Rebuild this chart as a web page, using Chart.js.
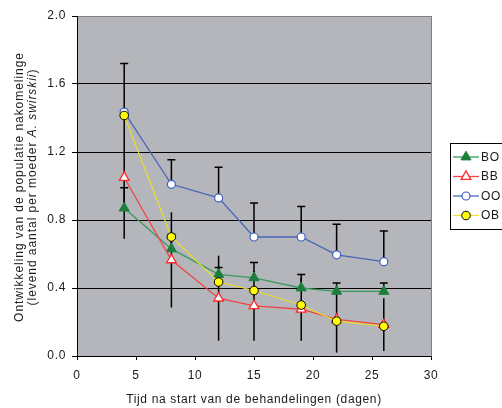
<!DOCTYPE html>
<html><head><meta charset="utf-8">
<script src="https://cdn.jsdelivr.net/npm/chart.js@4/dist/chart.umd.min.js"></script>
<style>html,body{margin:0;padding:0;background:#fff;}#wrap{width:502px;height:408px;position:relative;}</style>
</head><body><div id="wrap"><canvas id="c" width="502" height="408"></canvas></div>
<script>
// ---- data ----
const days = [4, 8, 12, 15, 19, 22, 26];
const seriesNames = ['BO', 'BB', 'OO', 'OB'];
const valuesBO = [0.87, 0.63, 0.48, 0.46, 0.40, 0.38, 0.38];
const valuesBB = [1.05, 0.565, 0.34, 0.295, 0.275, 0.215, 0.185];
const valuesOO = [1.435, 1.01, 0.93, 0.70, 0.70, 0.595, 0.555];
const valuesOB = [1.415, 0.70, 0.435, 0.385, 0.30, 0.205, 0.175];
const errPlusBO = [0.12, 0.085, 0.04, 0.09, 0.08, 0.05, 0.05];
const errPlusOO = [0.285, 0.145, 0.18, 0.20, 0.18, 0.18, 0.18];
const errBB = [0.36, 0.28, 0.25, 0.205, 0.185, 0.195, 0.155];
const yTickValues = [0, 0.4, 0.8, 1.2, 1.6, 2.0];
const xTickValues = [0, 5, 10, 15, 20, 25, 30];
const yTitleLine1 = 'Ontwikkeling van de populatie nakomelinge';
const yTitleLine2 = ['(levend aantal per moeder ', 'A. swirskii', ')'];
const xTitle = 'Tijd na start van de behandelingen (dagen)';

const FONT = "'Liberation Sans', Arial, sans-serif";
const TXT = '#1a1a1a';
const styles = {
  BO: {line: '#3a9a5c', pointStyle: 'triangle', radius: 5.8, bg: '#1b7f3b', border: '#1b7f3b', bw: 1, lw: 1.3, order: 3},
  BB: {line: '#f04646', pointStyle: 'triangle', radius: 5.6, bg: '#ffffff', border: '#ff2a2a', bw: 1.3, lw: 1.3, order: 2},
  OO: {line: '#4a66b6', pointStyle: 'circle', radius: 4, bg: '#ffffff', border: '#3f5fbf', bw: 1.2, lw: 1.3, order: 1},
  OB: {line: '#ede022', pointStyle: 'circle', radius: 4.3, bg: '#ffff00', border: '#000000', bw: 1, lw: 1.1, order: 0}
};
const seriesValues = {BO: valuesBO, BB: valuesBB, OO: valuesOO, OB: valuesOB};

const datasets = seriesNames.map(n => ({
  label: n,
  data: days.map((d, i) => ({x: d, y: seriesValues[n][i]})),
  borderColor: styles[n].line,
  borderWidth: styles[n].lw,
  pointStyle: styles[n].pointStyle,
  pointRadius: styles[n].radius,
  pointBackgroundColor: styles[n].bg,
  pointBorderColor: styles[n].border,
  pointBorderWidth: styles[n].bw,
  tension: 0,
  fill: false,
  order: styles[n].order
}));

const extras = {
  id: 'extras',
  beforeUpdate(chart) { chart.ctx.letterSpacing = '0.65px'; },
  beforeDraw(chart) {
    const {ctx, chartArea: a} = chart;
    ctx.letterSpacing = '0.65px';
    ctx.save();
    ctx.fillStyle = 'rgb(180,182,187)';
    ctx.fillRect(a.left, a.top, a.right - a.left, a.bottom - a.top);
    ctx.restore();
  },
  beforeDatasetsDraw(chart) {
    const {ctx, chartArea: a, scales} = chart;
    const xs = scales.x, ys = scales.y;
    ctx.save();
    // right border
    ctx.strokeStyle = '#808080';
    ctx.lineWidth = 1;
    ctx.beginPath();
    ctx.moveTo(Math.round(a.right) + 0.5, a.top);
    ctx.lineTo(Math.round(a.right) + 0.5, a.bottom);
    ctx.stroke();
    // error bars
    ctx.strokeStyle = '#000';
    ctx.lineWidth = 1.5;
    const cap = 4;
    days.forEach((d, i) => {
      const x = xs.getPixelForValue(d);
      // BB symmetric, no caps
      ctx.beginPath();
      ctx.moveTo(x, ys.getPixelForValue(valuesBB[i] - errBB[i]));
      ctx.lineTo(x, ys.getPixelForValue(valuesBB[i] + errBB[i]));
      ctx.stroke();
      // BO plus with cap
      const yb0 = ys.getPixelForValue(valuesBO[i]);
      const yb1 = ys.getPixelForValue(valuesBO[i] + errPlusBO[i]);
      ctx.beginPath();
      ctx.moveTo(x, yb0); ctx.lineTo(x, yb1);
      ctx.moveTo(x - cap, yb1); ctx.lineTo(x + cap, yb1);
      ctx.stroke();
      // OO plus with cap
      const yo0 = ys.getPixelForValue(valuesOO[i]);
      const yo1 = ys.getPixelForValue(valuesOO[i] + errPlusOO[i]);
      ctx.beginPath();
      ctx.moveTo(x, yo0); ctx.lineTo(x, yo1);
      ctx.moveTo(x - cap, yo1); ctx.lineTo(x + cap, yo1);
      ctx.stroke();
    });
    ctx.restore();
  },
  afterDraw(chart) {
    const {ctx, chartArea: a} = chart;
    ctx.save();
    // y axis title (two lines, rotated)
    const cy = (a.top + a.bottom) / 2 + 1;
    ctx.fillStyle = TXT;
    ctx.letterSpacing = '0.95px';
    ctx.textBaseline = 'middle';
    ctx.save();
    ctx.translate(19.5, cy);
    ctx.rotate(-Math.PI / 2);
    ctx.font = '12px ' + FONT;
    ctx.textAlign = 'center';
    ctx.fillText(yTitleLine1, 0, 0);
    ctx.restore();
    ctx.save();
    ctx.translate(32.5, cy);
    ctx.rotate(-Math.PI / 2);
    ctx.textAlign = 'left';
    const fonts = ['12px ' + FONT, 'italic 12px ' + FONT, '12px ' + FONT];
    let widths = yTitleLine2.map((t, k) => { ctx.font = fonts[k]; return ctx.measureText(t).width; });
    let total = widths.reduce((p, q) => p + q, 0);
    let x = -total / 2;
    yTitleLine2.forEach((t, k) => { ctx.font = fonts[k]; ctx.fillText(t, x, 0); x += widths[k]; });
    ctx.restore();

    // legend
    ctx.letterSpacing = '0.65px';
    ctx.fillStyle = '#ffffff';
    ctx.fillRect(450.5, 143.5, 60, 86);
    ctx.strokeStyle = '#000';
    ctx.lineWidth = 1;
    ctx.strokeRect(450.5, 143.5, 60, 86);
    seriesNames.forEach((n, k) => {
      const y = 157 + k * 19.5;
      const s = styles[n];
      ctx.strokeStyle = s.line;
      ctx.lineWidth = s.lw;
      ctx.beginPath();
      ctx.moveTo(453, y); ctx.lineTo(479, y);
      ctx.stroke();
      ctx.fillStyle = s.bg;
      ctx.strokeStyle = s.border;
      ctx.lineWidth = s.bw;
      Chart.helpers.drawPoint(ctx, {pointStyle: s.pointStyle, radius: s.radius, rotation: 0, borderWidth: s.bw}, 466, y);
      ctx.fillStyle = TXT;
      ctx.font = '12px ' + FONT;
      ctx.textAlign = 'left';
      ctx.textBaseline = 'middle';
      ctx.fillText(n, 481, y + 0.5);
    });
    ctx.restore();
  }
};

new Chart(document.getElementById('c'), {
  type: 'line',
  data: {datasets},
  options: {
    responsive: false,
    devicePixelRatio: 1,
    animation: false,
    events: [],
    layout: {padding: {top: 16, right: 71, left: 0, bottom: 0}},
    plugins: {legend: {display: false}, tooltip: {enabled: false}},
    scales: {
      x: {
        type: 'linear', min: 0, max: 30,
        afterFit: s => { s.height = 52; },
        afterBuildTicks: s => { s.ticks = xTickValues.map(v => ({value: v})); },
        ticks: {color: TXT, font: {family: FONT, size: 12}, padding: 8, maxRotation: 0},
        grid: {drawOnChartArea: false, drawTicks: true, tickLength: 4, color: '#000', tickColor: '#000'},
        border: {display: true, color: '#000', width: 1},
        title: {display: true, text: xTitle, color: TXT, font: {family: FONT, size: 12}, padding: {top: 0, bottom: 1}}
      },
      y: {
        type: 'linear', min: 0, max: 2,
        afterFit: s => { s.width = 77; },
        afterBuildTicks: s => { s.ticks = yTickValues.map(v => ({value: v})); },
        ticks: {color: TXT, font: {family: FONT, size: 12}, padding: 6, callback: v => Number(v).toFixed(1)},
        grid: {drawOnChartArea: true, drawTicks: true, tickLength: 5,
               color: c => (c.tick && Math.abs(c.tick.value - 2) < 1e-6) ? '#808080' : '#000',
               tickColor: '#000', lineWidth: 1},
        border: {display: true, color: '#000', width: 1}
      }
    }
  },
  plugins: [extras]
});
</script>
</body></html>
